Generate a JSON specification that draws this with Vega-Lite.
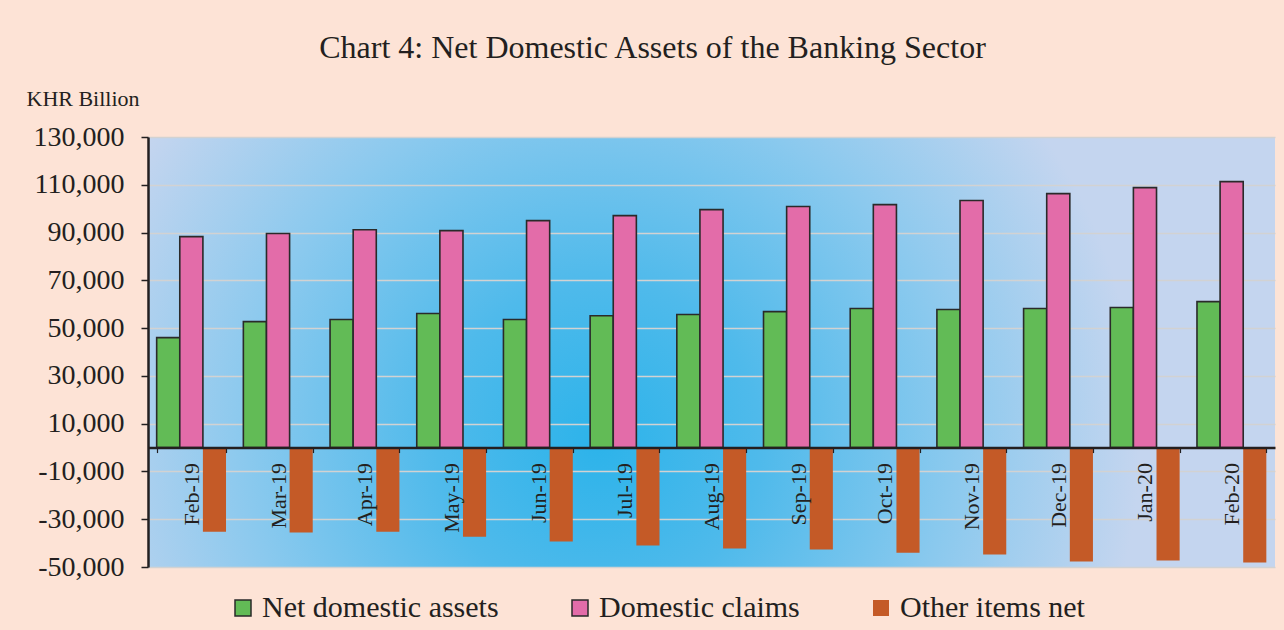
{
  "$schema": "https://vega.github.io/schema/vega-lite/v6.json",
  "width": 1127,
  "height": 430,
  "autosize": {"type": "none"},
  "padding": {"left": 148, "top": 137, "right": 9, "bottom": 63},
  "background": "#fde3d6",
  "title": {
    "text": "Chart 4: Net Domestic Assets of the Banking Sector",
    "font": "Liberation Serif",
    "fontSize": 32,
    "fontWeight": "normal",
    "color": "#231f20",
    "anchor": "middle",
    "dx": -59,
    "dy": 8,
    "offset": 30
  },
  "config": {
    "font": "Liberation Serif",
    "view": {
      "stroke": null,
      "fill": {
        "gradient": "radial",
        "x1": 0.4, "y1": 0.58, "r1": 0,
        "x2": 0.4, "y2": 0.58, "r2": 0.48,
        "stops": [
          {"offset": 0, "color": "#2cb3ea"},
          {"offset": 0.3, "color": "#4fbaeb"},
          {"offset": 0.65, "color": "#8ac9ee"},
          {"offset": 1, "color": "#c4d5ef"}
        ]
      }
    }
  },
  "data": {
    "values": [
      {"month": "Feb-19", "series": "Net domestic assets", "value": 46000},
      {"month": "Feb-19", "series": "Domestic claims", "value": 88300},
      {"month": "Feb-19", "series": "Other items net", "value": -35200},
      {"month": "Mar-19", "series": "Net domestic assets", "value": 52700},
      {"month": "Mar-19", "series": "Domestic claims", "value": 89600},
      {"month": "Mar-19", "series": "Other items net", "value": -35600},
      {"month": "Apr-19", "series": "Net domestic assets", "value": 53600},
      {"month": "Apr-19", "series": "Domestic claims", "value": 91200},
      {"month": "Apr-19", "series": "Other items net", "value": -35200},
      {"month": "May-19", "series": "Net domestic assets", "value": 56100},
      {"month": "May-19", "series": "Domestic claims", "value": 90800},
      {"month": "May-19", "series": "Other items net", "value": -37300},
      {"month": "Jun-19", "series": "Net domestic assets", "value": 53600},
      {"month": "Jun-19", "series": "Domestic claims", "value": 95000},
      {"month": "Jun-19", "series": "Other items net", "value": -39300},
      {"month": "Jul-19", "series": "Net domestic assets", "value": 55200},
      {"month": "Jul-19", "series": "Domestic claims", "value": 97100},
      {"month": "Jul-19", "series": "Other items net", "value": -41000},
      {"month": "Aug-19", "series": "Net domestic assets", "value": 55700},
      {"month": "Aug-19", "series": "Domestic claims", "value": 99600},
      {"month": "Aug-19", "series": "Other items net", "value": -42300},
      {"month": "Sep-19", "series": "Net domestic assets", "value": 56900},
      {"month": "Sep-19", "series": "Domestic claims", "value": 100900},
      {"month": "Sep-19", "series": "Other items net", "value": -42700},
      {"month": "Oct-19", "series": "Net domestic assets", "value": 58200},
      {"month": "Oct-19", "series": "Domestic claims", "value": 101700},
      {"month": "Oct-19", "series": "Other items net", "value": -44000},
      {"month": "Nov-19", "series": "Net domestic assets", "value": 57800},
      {"month": "Nov-19", "series": "Domestic claims", "value": 103400},
      {"month": "Nov-19", "series": "Other items net", "value": -44800},
      {"month": "Dec-19", "series": "Net domestic assets", "value": 58200},
      {"month": "Dec-19", "series": "Domestic claims", "value": 106300},
      {"month": "Dec-19", "series": "Other items net", "value": -47700},
      {"month": "Jan-20", "series": "Net domestic assets", "value": 58600},
      {"month": "Jan-20", "series": "Domestic claims", "value": 108800},
      {"month": "Jan-20", "series": "Other items net", "value": -47300},
      {"month": "Feb-20", "series": "Net domestic assets", "value": 61100},
      {"month": "Feb-20", "series": "Domestic claims", "value": 111300},
      {"month": "Feb-20", "series": "Other items net", "value": -48100}
    ]
  },
  "mark": {"type": "bar", "strokeWidth": 1.6},
  "encoding": {
    "x": {
      "field": "month",
      "type": "nominal",
      "sort": null,
      "scale": {"paddingInner": 0.2, "paddingOuter": 0.1},
      "axis": {
        "title": null,
        "orient": "bottom",
        "offset": -119.44,
        "zindex": 1,
        "tickBand": "extent",
        "domainColor": "#231f20",
        "domainWidth": 2.5,
        "tickColor": "#231f20",
        "tickWidth": 1.2,
        "tickSize": 5,
        "labelAngle": -90,
        "labelAlign": "right",
        "labelBaseline": "middle",
        "labelPadding": 10,
        "labelFont": "Liberation Serif",
        "labelFontSize": 22,
        "labelColor": "#231f20"
      }
    },
    "xOffset": {
      "field": "series",
      "type": "nominal",
      "sort": ["Net domestic assets", "Domestic claims", "Other items net"],
      "scale": {"paddingInner": 0, "paddingOuter": 0}
    },
    "y": {
      "field": "value",
      "type": "quantitative",
      "scale": {"domain": [-50000, 130000], "nice": false, "zero": false},
      "axis": {
        "title": "KHR Billion",
        "titleAngle": 0,
        "titleAlign": "left",
        "titleBaseline": "alphabetic",
        "titleX": -122,
        "titleY": -32,
        "titleFont": "Liberation Serif",
        "titleFontSize": 22,
        "titleFontWeight": "normal",
        "titleColor": "#231f20",
        "values": [-50000, -30000, -10000, 10000, 30000, 50000, 70000, 90000, 110000, 130000],
        "labelExpr": "replace(format(datum.value, ','), '\u2212', '-')",
        "labelFont": "Liberation Serif",
        "labelFontSize": 28,
        "labelColor": "#231f20",
        "labelPadding": 17,
        "tickSize": 7,
        "tickColor": "#231f20",
        "tickWidth": 1.5,
        "domainColor": "#231f20",
        "domainWidth": 2.5,
        "grid": true,
        "gridColor": "#d2d2d2",
        "gridWidth": 1.5
      }
    },
    "color": {
      "field": "series",
      "type": "nominal",
      "sort": ["Net domestic assets", "Domestic claims", "Other items net"],
      "scale": {"range": ["#62bb56", "#e36ca9", "#c45a27"]},
      "legend": {
        "title": null,
        "orient": "none",
        "direction": "horizontal",
        "legendX": 80,
        "legendY": 456,
        "symbolType": "square",
        "symbolSize": 256,
        "symbolStrokeWidth": 1.5,
        "symbolStrokeColor": "#2a2a2a",
        "symbolOpacity": 1,
        "labelFont": "Liberation Serif",
        "labelFontSize": 30,
        "labelColor": "#231f20",
        "labelOffset": 4,
        "columnPadding": 66,
        "labelLimit": 400,
        "encode": {
          "symbols": {
            "enter": {
              "stroke": {"signal": "datum.value === 'Other items net' ? 'transparent' : '#2a2a2a'"}
            },
            "update": {
              "stroke": {"signal": "datum.value === 'Other items net' ? 'transparent' : '#2a2a2a'"},
              "strokeWidth": {"value": 1.5}
            }
          }
        }
      }
    },
    "stroke": {
      "condition": {"test": "datum.series !== 'Other items net'", "value": "#2a2a2a"},
      "value": "transparent"
    }
  }
}
